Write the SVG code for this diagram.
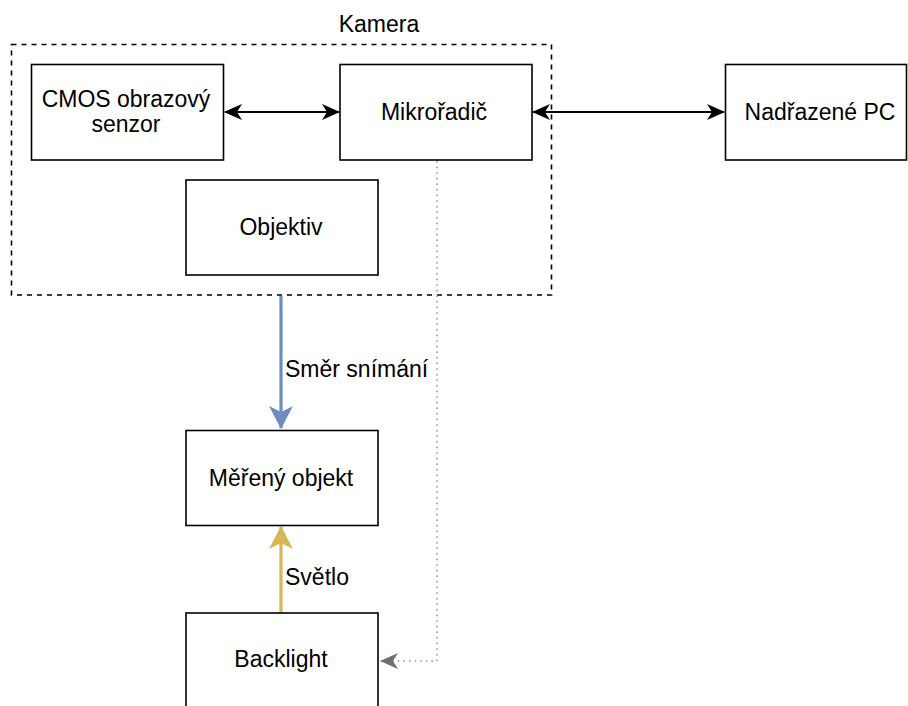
<svg xmlns="http://www.w3.org/2000/svg" width="908" height="706" viewBox="0 0 908 706">
<style>
text{font-family:"Liberation Sans",Arial,Helvetica,sans-serif;font-size:23px;fill:#000}
.c{text-anchor:middle}
.box{fill:#fff;stroke:#000;stroke-width:1.6}
</style>
<defs>
<marker id="bk" viewBox="0 0 18 16" refX="17" refY="8" markerWidth="18" markerHeight="16" markerUnits="userSpaceOnUse" orient="auto-start-reverse">
<path d="M0,0 L18,8 L0,16 L5,8 Z" fill="#000"/>
</marker>
<marker id="bl" viewBox="0 0 23 24" refX="22" refY="12" markerWidth="23" markerHeight="24" markerUnits="userSpaceOnUse" orient="auto">
<path d="M0,0 L23,12 L0,24 L6,12 Z" fill="#6c8ebf"/>
</marker>
<marker id="yl" viewBox="0 0 23 24" refX="22" refY="12" markerWidth="23" markerHeight="24" markerUnits="userSpaceOnUse" orient="auto">
<path d="M0,0 L23,12 L0,24 L6,12 Z" fill="#d6b656"/>
</marker>
<marker id="gr" viewBox="0 0 18 16" refX="17" refY="8" markerWidth="18" markerHeight="16" markerUnits="userSpaceOnUse" orient="auto">
<path d="M0,0 L18,8 L0,16 L5,8 Z" fill="#707070"/>
</marker>
</defs>
<g id="kamera">
<rect x="11.5" y="44.5" width="540" height="250.5" fill="none" stroke="#000" stroke-width="1.6" stroke-dasharray="5 5"/>
<text class="c" x="379" y="32">Kamera</text>
</g>
<g id="connectors">
<line x1="225" y1="112" x2="339" y2="112" stroke="#000" stroke-width="1.8" marker-start="url(#bk)" marker-end="url(#bk)"/>
<line x1="533" y1="112" x2="724" y2="112" stroke="#000" stroke-width="1.8" marker-start="url(#bk)" marker-end="url(#bk)"/>
<line x1="281" y1="296" x2="281" y2="428" stroke="#6c8ebf" stroke-width="3.2" marker-end="url(#bl)"/>
<line x1="281" y1="613" x2="281" y2="527" stroke="#d6b656" stroke-width="3.2" marker-end="url(#yl)"/>
<polyline points="437,161 437,661 381,661" fill="none" stroke="#999" stroke-width="1.6" stroke-dasharray="1.6 4" marker-end="url(#gr)"/>
<text x="285" y="377">Směr snímání</text>
<text x="285" y="585">Světlo</text>
</g>
<g id="cmos">
<rect class="box" x="31.5" y="64.5" width="192" height="95.5"/>
<text class="c" x="126" y="107">CMOS obrazový</text>
<text class="c" x="126" y="132">senzor</text>
</g>
<g id="mikroradic">
<rect class="box" x="340" y="64.5" width="192" height="95.5"/>
<text class="c" x="434" y="120">Mikrořadič</text>
</g>
<g id="pc">
<rect class="box" x="725.5" y="64.5" width="181" height="95.5"/>
<text class="c" x="820" y="120">Nadřazené PC</text>
</g>
<g id="objektiv">
<rect class="box" x="186" y="180" width="192" height="95"/>
<text class="c" x="281" y="235">Objektiv</text>
</g>
<g id="mereny">
<rect class="box" x="186" y="430.5" width="192" height="95"/>
<text class="c" x="281" y="486">Měřený objekt</text>
</g>
<g id="backlight">
<rect class="box" x="186" y="613" width="192" height="96"/>
<text class="c" x="281" y="667">Backlight</text>
</g>
</svg>
